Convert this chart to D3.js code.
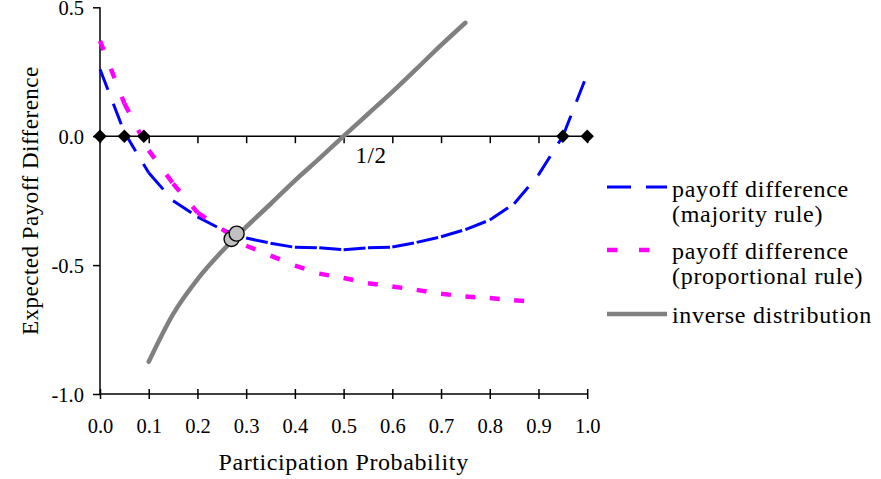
<!DOCTYPE html>
<html>
<head>
<meta charset="utf-8">
<script src="https://cdn.jsdelivr.net/npm/d3@7"></script>
<style>
  body { margin: 0; background: #fff; }
  svg text { font-family: "Liberation Serif", "Times New Roman", serif; fill: #000; }
</style>
</head>
<body>
<div id="chart"></div>
<script>
//Chart data

//Majority rule payoff difference (blue long dash)
var pMajority = [0, 0.05, 0.1, 0.15, 0.2, 0.25, 0.3, 0.35, 0.4, 0.45, 0.5, 0.55, 0.6, 0.65, 0.7, 0.75, 0.8, 0.85, 0.9, 0.95, 1.0];
var majority = [0.26, 0.015, -0.142, -0.25, -0.313, -0.362, -0.395, -0.415, -0.431, -0.433, -0.44, -0.433, -0.43, -0.412, -0.39, -0.362, -0.325, -0.262, -0.15, 0.0, 0.24];

//Proportional rule payoff difference (pink short dash)
var pProportional = [0, 0.05, 0.1, 0.15, 0.2, 0.25, 0.3, 0.35, 0.4, 0.45, 0.5, 0.55, 0.6, 0.65, 0.7, 0.75, 0.8, 0.85, 0.9];
var proportional = [0.37, 0.127, -0.055, -0.184, -0.296, -0.36, -0.425, -0.463, -0.502, -0.533, -0.55, -0.57, -0.583, -0.596, -0.611, -0.622, -0.628, -0.636, -0.645];

//Inverse distribution (grey solid)
var pInverse = [0.1, 0.15, 0.2, 0.25, 0.3, 0.35, 0.4, 0.45, 0.5, 0.55, 0.6, 0.65, 0.7, 0.75];
var inverse = [-0.875, -0.69, -0.555, -0.447, -0.352, -0.263, -0.172, -0.087, 0.0, 0.086, 0.172, 0.262, 0.353, 0.44];

//Equilibria on the zero line and the two crossing points
var equilibria = [0, 0.05, 0.09, 0.95, 1.0];
var crossP = [0.27, 0.2805];
var crossV = [-0.399, -0.378];

//Ticks and labels
var xTicks = [0, 0.1, 0.2, 0.3, 0.4, 0.5, 0.6, 0.7, 0.8, 0.9, 1.0];
var yTicks = [0.5, 0.0, -0.5, -1.0];
var legendLabels = [["payoff difference", "(majority rule)"], ["payoff difference", "(proportional rule)"], ["inverse distribution"]];

var width = 881, height = 479;
var svg = d3.select("#chart").append("svg").attr("width", width).attr("height", height);

var x = d3.scaleLinear().domain([0, 1]).range([100, 587.2]);
var y = d3.scaleLinear().domain([-1, 0.5]).range([394, 7.3]);

var fmt = function(d) { return d3.format(".1f")(d).replace("\u2212", "-"); };

//Left axis
var yAxis = svg.append("g").attr("transform", "translate(" + x(0) + ",0)")
    .call(d3.axisLeft(y).tickValues(yTicks).tickSize(7).tickFormat(fmt));
yAxis.select(".domain").remove();
yAxis.append("line").attr("x1", 0).attr("x2", 0).attr("y1", y(0.5)).attr("y2", y(-1)).attr("stroke", "#000").attr("stroke-width", 1.5);
yAxis.selectAll(".tick line").attr("stroke-width", 1.5);
yAxis.selectAll(".tick text").attr("x", -16).attr("dy", null).attr("y", 7).style("font-size", "20.5px");

//Bottom axis at -1.0, ticks cross the line
var xAxis = svg.append("g").attr("transform", "translate(0," + y(-1) + ")")
    .call(d3.axisBottom(x).tickValues(xTicks).tickSize(5).tickFormat(fmt));
xAxis.select(".domain").remove();
xAxis.append("line").attr("x1", x(0)).attr("x2", x(1)).attr("stroke", "#000").attr("stroke-width", 1.5);
xAxis.selectAll(".tick line").attr("y1", -5).attr("stroke-width", 1.5);
xAxis.selectAll(".tick text").attr("dy", null).attr("y", 39).style("font-size", "20.5px");

//Zero line with downward ticks
var zAxis = svg.append("g").attr("transform", "translate(0," + y(0) + ")")
    .call(d3.axisBottom(x).tickValues(xTicks).tickSize(7).tickFormat(""));
zAxis.select(".domain").remove();
zAxis.append("line").attr("x1", x(0)).attr("x2", x(1)).attr("stroke", "#000").attr("stroke-width", 1.5);
zAxis.selectAll(".tick line").attr("stroke-width", 1.5);

svg.append("text").attr("x", 371).attr("y", y(0) + 27).attr("text-anchor", "middle")
    .style("font-size", "23px").style("letter-spacing", "0.5px").text("1/2");

//Axis titles
svg.append("text").attr("x", x(0.5)).attr("y", 470).attr("text-anchor", "middle")
    .style("font-size", "24px").style("letter-spacing", "0.6px").text("Participation Probability");
svg.append("text").attr("transform", "translate(38," + y(-0.25) + ") rotate(-90)").attr("text-anchor", "middle")
    .style("font-size", "23px").style("letter-spacing", "0.5px").text("Expected Payoff Difference");

//Excel restarts the dash pattern at every data point, so each segment is its own line
var line = d3.line().x(function(d) { return x(d[0]); }).y(function(d) { return y(d[1]); });

var drawSegments = function(ps, vs, color, widthPx, dash)
{
    var g = svg.append("g");
    for(var i = 0; i < ps.length - 1; i++)
    {
        g.append("path").attr("d", line([[ps[i], vs[i]], [ps[i + 1], vs[i + 1]]]))
            .attr("fill", "none").attr("stroke", color).attr("stroke-width", widthPx)
            .attr("stroke-dasharray", dash).attr("stroke-linecap", "butt");
    }
}

drawSegments(pMajority, majority, "#0000ff", 3, "22,15");
drawSegments(pProportional, proportional, "#ff00ff", 4.5, "10,20");

svg.append("path").datum(d3.zip(pInverse, inverse))
    .attr("d", line.curve(d3.curveMonotoneX))
    .attr("fill", "none").attr("stroke", "#808080").attr("stroke-width", 4.5).attr("stroke-linecap", "round");

//Diamonds on the zero line
svg.selectAll("path.eq").data(equilibria).enter().append("path").attr("class", "eq")
    .attr("d", d3.symbol(d3.symbolSquare, 90))
    .attr("transform", function(d) { return "translate(" + x(d) + "," + y(0) + ") rotate(45)"; })
    .attr("fill", "#000");

//Crossing points
svg.selectAll("circle.cross").data(d3.zip(crossP, crossV)).enter().append("circle").attr("class", "cross")
    .attr("cx", function(d) { return x(d[0]); }).attr("cy", function(d) { return y(d[1]); })
    .attr("r", 7.5).attr("fill", "#c0c0c0").attr("stroke", "#000").attr("stroke-width", 1.4);

//Legend
var legendY = [187, 250, 314];
var legendStyles = [["#0000ff", 3, "24,15"], ["#ff00ff", 4.5, "10.5,21.5"], ["#808080", 4.5, null]];
var legendText = [[197, 222], [259, 284], [323]];

for(var k = 0; k < 3; k++)
{
    svg.append("line").attr("x1", 607).attr("x2", 667).attr("y1", legendY[k]).attr("y2", legendY[k])
        .attr("stroke", legendStyles[k][0]).attr("stroke-width", legendStyles[k][1])
        .attr("stroke-dasharray", legendStyles[k][2]);
    legendLabels[k].forEach(function(t, j) {
        svg.append("text").attr("x", 672).attr("y", legendText[k][j])
            .style("font-size", "24px").style("letter-spacing", "0.7px").text(t);
    });
}
</script>
</body>
</html>
